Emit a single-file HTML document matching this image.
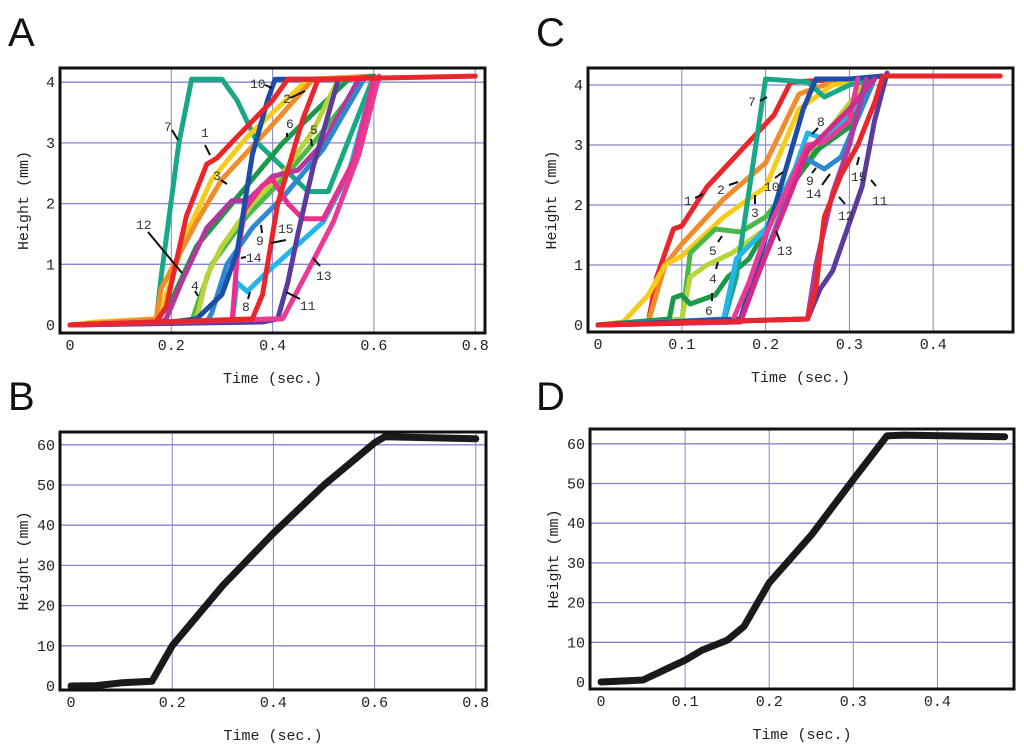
<!DOCTYPE html>
<html><head><meta charset="utf-8"><style>
html,body{margin:0;padding:0;background:#fff;}
svg{display:block;}
text{font-family:"Liberation Mono",monospace;}
.pl{font-family:"Liberation Sans",sans-serif;font-size:40px;fill:#111;}
</style></head><body>
<svg id="fig" width="1024" height="750" viewBox="0 0 1024 750">
<text class="pl" x="8" y="46">A</text>
<text class="pl" x="536" y="46">C</text>
<text class="pl" x="8" y="410">B</text>
<text class="pl" x="536" y="410">D</text>
</svg>
<script>
// ---- Panel A data (time s, height mm) ----
const aXTicks = ["0","0.2","0.4","0.6","0.8"];
const aXVals = [0,0.2,0.4,0.6,0.8];
const aYVals = [0,1,2,3,4];
const a7 = [[0,0],[0.17,0.05],[0.18,0.8],[0.215,3],[0.24,4.05],[0.3,4.05],[0.33,3.7],[0.37,3.0],[0.42,2.6],[0.47,2.2],[0.51,2.2],[0.6,4.1]];
const a3 = [[0,0],[0.05,0.05],[0.17,0.1],[0.19,0.5],[0.23,1.5],[0.28,2.4],[0.35,3.1],[0.47,4.05],[0.6,4.1]];
const a2 = [[0,0],[0.17,0.1],[0.18,0.6],[0.25,1.7],[0.3,2.4],[0.4,3.3],[0.48,4.05],[0.6,4.1]];
const a6 = [[0,0],[0.17,0.05],[0.2,0.4],[0.25,1.3],[0.33,2.1],[0.42,3.0],[0.55,4.05],[0.6,4.1]];
const a5 = [[0,0],[0.24,0.05],[0.25,0.3],[0.28,1.0],[0.35,1.8],[0.42,2.4],[0.5,3.2],[0.58,4.05]];
const a4 = [[0,0],[0.24,0.05],[0.25,0.1],[0.27,0.8],[0.3,1.3],[0.36,2.0],[0.43,2.6],[0.48,3.2],[0.53,4.05]];
const a12 = [[0,0],[0.18,0.05],[0.19,0.1],[0.22,0.7],[0.27,1.6],[0.32,2.05],[0.35,2.05],[0.4,2.45],[0.45,2.55],[0.5,3.0],[0.57,4.05]];
const a9 = [[0,0],[0.27,0.05],[0.28,0.2],[0.31,1.0],[0.36,1.6],[0.42,2.1],[0.5,2.9],[0.58,4.05]];
const a8 = [[0,0],[0.32,0.05],[0.33,0.7],[0.35,0.55],[0.38,0.8],[0.42,1.1],[0.5,1.7],[0.55,2.5],[0.6,4.05]];
const a15 = [[0,0],[0.31,0.05],[0.32,0.05],[0.33,1.1],[0.345,1.9],[0.38,2.3],[0.4,2.4],[0.43,2.0],[0.46,1.75],[0.5,1.75],[0.56,2.7],[0.6,4.05]];
const a10 = [[0,0],[0.2,0.05],[0.25,0.1],[0.3,0.5],[0.33,1.2],[0.36,2.8],[0.39,3.7],[0.405,4.05],[0.5,4.05]];
const a1 = [[0,0],[0.17,0.05],[0.19,0.3],[0.23,1.8],[0.27,2.65],[0.29,2.75],[0.33,3.1],[0.4,3.7],[0.43,4.05],[0.5,4.05]];
const a11 = [[0,0],[0.38,0.05],[0.41,0.1],[0.43,0.7],[0.45,1.5],[0.48,2.6],[0.53,4.05]];
const a13 = [[0,0],[0.4,0.1],[0.42,0.1],[0.47,0.9],[0.52,1.7],[0.57,2.8],[0.61,4.1]];
const a14 = [[0,0],[0.36,0.1],[0.38,0.5],[0.41,2.0],[0.46,3.4],[0.49,4.05],[0.8,4.1]];
const aSeries = [a7,a3,a2,a6,a5,a4,a12,a9,a8,a15,a10,a1,a11,a13,a14];
const aColors = ["#18a886","#f5cc1a","#f08c2c","#1a9a48","#4cb848","#b8d43a","#b4389c","#2e88d0","#22b6ea","#e8308c","#1c4ea8","#e8262c","#5a3c9e","#ea3a94","#e8262c"];
const aLabels = [["10",250,88],["2",283,103],["6",286,128],["5",310,134],["7",164,131],["1",201,137],["3",213,180],["12",136,229],["4",191,290],["9",256,245],["15",278,233],["14",246,262],["8",242,311],["11",300,310],["13",316,280]];
const aLeaders = [[265,85,272,88],[290,98,305,91],[287,133,287,137],[311,139,312,146],[172,130,178,140],[205,145,210,155],[221,180,227,184],[148,232,182,273],[195,291,198,296],[261,225,262,233],[286,240,271,243],[246,257,241,258],[250,292,248,299],[300,299,286,292],[320,266,313,258]];

// ---- Panel C data ----
const cXTicks = ["0","0.1","0.2","0.3","0.4"];
const cXVals = [0,0.1,0.2,0.3,0.4];
const cYVals = [0,1,2,3,4];
const c1 = [[0,0],[0.06,0.05],[0.07,0.8],[0.09,1.6],[0.1,1.65],[0.13,2.3],[0.17,2.9],[0.21,3.5],[0.23,4.05],[0.3,4.1]];
const c2 = [[0,0],[0.06,0.05],[0.08,1.0],[0.1,1.35],[0.15,2.1],[0.2,2.7],[0.24,3.85],[0.28,4.05]];
const c3 = [[0,0],[0.03,0.05],[0.06,0.5],[0.08,1.0],[0.1,1.15],[0.15,1.8],[0.2,2.3],[0.24,3.6],[0.28,4.0],[0.3,4.05]];
const c5 = [[0,0],[0.1,0.05],[0.11,1.2],[0.14,1.6],[0.17,1.55],[0.2,1.8],[0.24,2.5],[0.3,3.6],[0.32,4.05]];
const c4 = [[0,0],[0.1,0.1],[0.11,0.8],[0.13,1.0],[0.16,1.2],[0.2,1.6],[0.25,2.8],[0.32,4.05]];
const c6 = [[0,0],[0.085,0.1],[0.09,0.45],[0.1,0.5],[0.11,0.35],[0.14,0.5],[0.155,0.8],[0.18,1.1],[0.23,2.3],[0.26,2.9],[0.3,3.3],[0.32,4.05]];
const c7 = [[0,0],[0.15,0.05],[0.165,0.8],[0.2,4.1],[0.25,4.05],[0.27,3.8],[0.3,4.0],[0.33,4.1]];
const c8 = [[0,0],[0.15,0.1],[0.165,1.1],[0.2,1.6],[0.235,2.6],[0.25,3.2],[0.27,3.1],[0.3,3.5],[0.33,4.1]];
const c9 = [[0,0],[0.17,0.1],[0.2,1.2],[0.245,2.8],[0.27,2.6],[0.29,2.8],[0.33,4.1]];
const c10 = [[0,0],[0.17,0.1],[0.19,1.0],[0.22,2.4],[0.245,3.6],[0.26,4.1],[0.3,4.1],[0.34,4.15]];
const c13 = [[0,0],[0.16,0.05],[0.18,0.7],[0.2,1.5],[0.25,3.0],[0.27,3.05],[0.3,3.4],[0.31,4.1]];
const c14 = [[0,0],[0.17,0.05],[0.19,0.8],[0.25,2.9],[0.3,3.6],[0.33,4.1]];
const c12 = [[0,0],[0.25,0.1],[0.26,1.0],[0.28,2.2],[0.3,3.0],[0.32,4.1]];
const c11 = [[0,0],[0.25,0.1],[0.265,0.6],[0.28,0.9],[0.3,1.7],[0.315,2.3],[0.33,3.4],[0.345,4.2]];
const c15 = [[0,0],[0.25,0.1],[0.26,0.6],[0.27,1.8],[0.29,2.5],[0.31,3.0],[0.33,3.7],[0.34,4.15],[0.48,4.15]];
const cSeries = [c1,c2,c3,c5,c4,c6,c7,c8,c9,c10,c13,c14,c12,c11,c15];
const cColors = ["#e8262c","#f08c2c","#f5cc1a","#4cb848","#b8d43a","#1a9a48","#18a886","#22b6ea","#2e88d0","#1c4ea8","#ea3a94","#d42a8a","#b4389c","#5a3c9e","#e8262c"];
const cLabels = [["7",748,106],["8",817,126],["1",684,205],["2",717,194],["10",764,191],["3",751,217],["9",806,185],["14",806,198],["15",851,181],["11",872,205],["12",838,220],["13",777,255],["5",709,255],["4",709,283],["6",705,315]];
const cLeaders = [[760,101,767,97],[818,128,812,134],[695,198,703,194],[729,185,738,182],[775,178,783,172],[755,195,755,204],[812,173,816,168],[822,185,830,174],[857,165,859,157],[876,186,871,180],[845,204,839,197],[780,241,776,231],[718,242,722,236],[716,269,718,262],[712,301,712,293]];

// ---- Panel B / D data ----
const bXTicks = ["0","0.2","0.4","0.6","0.8"];
const bXVals = [0,0.2,0.4,0.6,0.8];
const bYVals = [0,10,20,30,40,50,60];
const bCurve = [[0,0],[0.05,0.1],[0.1,0.8],[0.16,1.2],[0.2,10],[0.3,25],[0.4,38],[0.5,50],[0.6,60.5],[0.62,62],[0.8,61.5]];
const dXTicks = ["0","0.1","0.2","0.3","0.4"];
const dXVals = [0,0.1,0.2,0.3,0.4];
const dYVals = [0,10,20,30,40,50,60];
const dCurve = [[0,0],[0.05,0.5],[0.07,2.5],[0.1,5.5],[0.12,8],[0.15,10.5],[0.17,14],[0.2,25],[0.25,37],[0.3,51],[0.34,62],[0.36,62.2],[0.48,61.8]];

const NS = "http://www.w3.org/2000/svg";
const svg = document.getElementById("fig");
function mk(tag, attrs, parent){ const e=document.createElementNS(NS,tag); for(const k in attrs) e.setAttribute(k,attrs[k]); (parent||svg).appendChild(e); return e; }

function panel(id, box, xMap, yMap, xVals, xTicks, yVals, series, colors, width, labels, leaders){
  const g = mk("g",{});
  
  
  const X = v => xMap[0] + v*xMap[1];
  const Y = v => yMap[0] - v*yMap[1];
  // grid
  xVals.forEach(v => { if(v===0) return; const l=mk("line",{x1:X(v),x2:X(v),y1:box[1],y2:box[3],stroke:"#8585cc","stroke-width":1},g);
    
     });
  yVals.forEach(v => { if(v===0) return; const l=mk("line",{x1:box[0],x2:box[2],y1:Y(v),y2:Y(v),stroke:"#8585cc","stroke-width":1.3},g);
    
     });
  // series
  series.forEach((s,i) => {
    const p = mk("polyline",{points:s.map(q=>X(q[0]).toFixed(1)+","+Y(q[1]).toFixed(1)).join(" "),fill:"none",stroke:colors[i],"stroke-width":width,"stroke-linejoin":"round","stroke-linecap":"round"},g);
    
    
  });
  // frame
  const fr = mk("rect",{x:box[0],y:box[1],width:box[2]-box[0],height:box[3]-box[1],fill:"none",stroke:"#111","stroke-width":3},g);
  
  
  // ticks
  xVals.forEach((v,i) => { const t=mk("text",{x:X(v),y:box[3]+17,"text-anchor":"middle","font-size":15,fill:"#222"},g); t.textContent=xTicks[i];
    
     });
  yVals.forEach(v => { const t=mk("text",{x:box[0]-5,y:Y(v)+5,"text-anchor":"end","font-size":15,fill:"#222"},g); t.textContent=String(v);
    
     });
  const xt = mk("text",{x:(box[0]+box[2])/2,y:box[3]+50,"text-anchor":"middle","font-size":15,fill:"#222"},g);
  xt.textContent = "Time (sec.)";
  
  
  const cy = (box[1]+box[3])/2;
  const yt = mk("text",{x:box[0]-32,y:cy,"text-anchor":"middle","font-size":15,fill:"#222",transform:"rotate(-90 "+(box[0]-32)+" "+cy+")"},g);
  yt.textContent = "Height (mm)";
  
  
  (leaders||[]).forEach(L => { const l=mk("line",{x1:L[0],y1:L[1],x2:L[2],y2:L[3],stroke:"#111","stroke-width":2},g);
    
     });
  (labels||[]).forEach(L => { const t=mk("text",{x:L[1],y:L[2],"font-size":13,fill:"#333"},g); t.textContent=L[0];
    
     });
}

panel("a",[60,68,485,333],[70,506.5],[325,60.7],aXVals,aXTicks,aYVals,aSeries,aColors,5,aLabels,aLeaders);
panel("c",[588,68,1013,332],[598,838],[325,60],cXVals,cXTicks,cYVals,cSeries,cColors,5,cLabels,cLeaders);
panel("b",[60,432,486,690],[71,506],[686,4.02],bXVals,bXTicks,bYVals,[bCurve],["#1a1a1a"],7);
panel("d",[590,429,1014,689],[601,841],[682,3.97],dXVals,dXTicks,dYVals,[dCurve],["#1a1a1a"],7);
</script>
</body></html>
